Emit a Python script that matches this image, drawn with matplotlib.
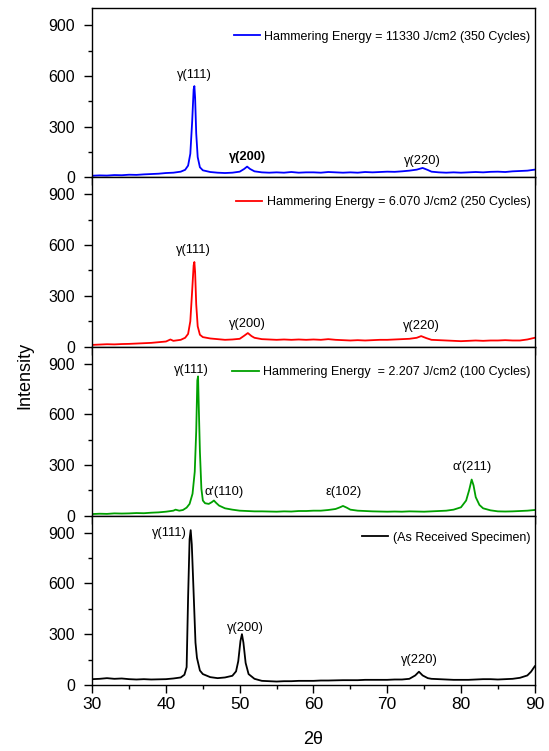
import matplotlib as mpl
import matplotlib.pyplot as plt
from matplotlib.ticker import MultipleLocator

mpl.rcParams.update({
    "font.family": ["Liberation Sans", "DejaVu Sans"],
    "font.size": 9,
    "axes.linewidth": 1.0,
    "xtick.direction": "out", "ytick.direction": "out",
    "xtick.major.size": 5.5, "ytick.major.size": 5.5,
    "xtick.minor.size": 3.0, "ytick.minor.size": 3.0,
    "xtick.major.pad": 3.0, "ytick.major.pad": 7.0,
    "xtick.labelsize": 12.5, "ytick.labelsize": 11.5,
})

# ---- data ----
x_350 = [30, 31, 32, 33, 34, 35, 36, 37, 38, 39, 40, 41, 42, 42.6, 43.0, 43.3, 43.55,
         43.75, 43.85, 43.95, 44.1, 44.3, 44.6, 45, 46, 47, 48, 49, 50, 50.6, 51.0, 51.4,
         52, 53, 54, 55, 56, 57, 58, 59, 60, 61, 62, 63, 64, 65, 66, 67, 68, 69, 70, 71,
         72, 73, 74, 74.8, 75.5, 76, 77, 78, 79, 80, 81, 82, 83, 84, 85, 86, 87, 88, 89, 90]
y_350 = [10, 12, 11, 14, 13, 16, 15, 18, 20, 22, 26, 28, 34, 45, 70, 140, 330,
         520, 540, 470, 260, 120, 60, 42, 32, 28, 26, 28, 34, 50, 64, 50,
         36, 30, 28, 30, 28, 32, 28, 30, 30, 28, 32, 30, 28, 30, 28, 32, 30, 32, 34, 33,
         36, 40, 46, 56, 44, 34, 30, 28, 30, 28, 30, 32, 30, 33, 34, 32, 36, 38, 40, 46]

x_250 = [30, 31, 32, 33, 34, 35, 36, 37, 38, 39, 40, 40.6, 41, 42, 42.6, 43.0, 43.3, 43.55,
         43.75, 43.85, 43.95, 44.1, 44.3, 44.6, 45, 46, 47, 48, 49, 50, 50.6, 51.1, 51.6,
         52, 53, 54, 55, 56, 57, 58, 59, 60, 61, 62, 63, 64, 65, 66, 67, 68, 69, 70, 71,
         72, 73, 74, 74.6, 75.3, 76, 77, 78, 79, 80, 81, 82, 83, 84, 85, 86, 87, 88, 89, 90]
y_250 = [10, 12, 14, 13, 15, 16, 18, 20, 22, 26, 30, 42, 34, 40, 52, 75, 150, 330,
         480, 500, 440, 250, 120, 70, 56, 48, 44, 40, 42, 46, 64, 80, 62,
         52, 44, 42, 40, 42, 40, 42, 40, 42, 40, 44, 40, 38, 36, 38, 36, 38, 40, 40, 42,
         44, 46, 52, 62, 50, 40, 38, 36, 34, 32, 34, 36, 34, 36, 36, 38, 36, 36, 42, 52]

x_100 = [30, 31, 32, 33, 34, 35, 36, 37, 38, 39, 40, 41, 41.3, 41.8, 42.3, 42.8, 43.2, 43.6,
         43.9, 44.1, 44.25, 44.35, 44.45, 44.6, 44.8, 45.0, 45.3, 45.8, 46.2, 46.5, 46.8,
         47.2, 48, 49, 50, 51, 52, 53, 54, 55, 56, 57, 58, 59, 60, 61, 62, 63, 63.6, 64.0,
         64.5, 65, 66, 67, 68, 69, 70, 71, 72, 73, 74, 75, 76, 77, 78, 79, 80, 80.7, 81.1,
         81.45, 81.7, 82, 82.5, 83, 84, 85, 86, 87, 88, 89, 90]
y_100 = [10, 12, 11, 14, 13, 14, 16, 15, 18, 20, 24, 30, 36, 30, 34, 48, 70, 130,
         260, 500, 800, 824, 640, 380, 160, 90, 74, 70, 80, 90, 76,
         60, 44, 36, 30, 28, 26, 26, 25, 24, 26, 25, 28, 28, 30, 30, 34, 40, 50, 58,
         48, 36, 30, 28, 26, 25, 24, 25, 24, 26, 25, 24, 26, 28, 30, 36, 50, 90, 150,
         214, 180, 110, 64, 44, 32, 26, 25, 26, 28, 30, 34]

x_ar = [30, 31, 32, 33, 34, 35, 36, 37, 38, 39, 40, 41, 42, 42.5, 42.8, 43.0, 43.2, 43.35,
        43.5, 43.7, 44.0, 44.2, 44.6, 45, 46, 47, 48, 49, 49.5, 49.8, 50.1, 50.3, 50.5,
        50.8, 51.2, 52, 53, 54, 55, 56, 57, 58, 59, 60, 61, 62, 63, 64, 65, 66, 67, 68, 69,
        70, 71, 72, 73, 73.8, 74.3, 74.8, 75.5, 76, 77, 78, 79, 80, 81, 82, 83, 84, 85, 86,
        87, 88, 89, 89.5, 90]
y_ar = [34, 36, 40, 36, 38, 34, 32, 34, 32, 33, 34, 38, 44, 60, 105, 520, 860, 915,
        830, 600, 250, 160, 85, 64, 46, 40, 44, 54, 80, 140, 260, 300, 250,
        130, 64, 36, 24, 22, 20, 22, 22, 24, 24, 24, 26, 26, 27, 28, 28, 28, 30, 30, 30,
        30, 32, 32, 36, 56, 78, 56, 40, 36, 34, 32, 30, 30, 30, 32, 34, 34, 32, 34,
        36, 42, 56, 78, 110]

legends = ["Hammering Energy = 11330 J/cm2 (350 Cycles)",
           "Hammering Energy = 6.070 J/cm2 (250 Cycles)",
           "Hammering Energy  = 2.207 J/cm2 (100 Cycles)",
           "(As Received Specimen)"]
colors = ["#0000ff", "#ff0000", "#00a000", "#000000"]
series = [(x_350, y_350), (x_250, y_250), (x_100, y_100), (x_ar, y_ar)]
legend_y = [0.833, 0.852, 0.850, 0.871]

# peak labels: (text, x, y, bold)
peaks = [
    [("γ(111)", 43.9, 607, False), ("γ(200)", 51.0, 123, True), ("γ(220)", 74.8, 98, False)],
    [("γ(111)", 43.7, 569, False), ("γ(200)", 51.1, 131, False), ("γ(220)", 74.7, 121, False)],
    [("γ(111)", 43.4, 864, False), ("α'(110)", 47.9, 142, False),
     ("ε(102)", 64.1, 142, False), ("α'(211)", 81.5, 287, False)],
    [("γ(111)", 40.5, 897, False), ("γ(200)", 50.8, 339, False), ("γ(220)", 74.3, 148, False)],
]

fig, axes = plt.subplots(4, 1, sharex=True, figsize=(5.49, 7.51), dpi=100)
fig.subplots_adjust(left=0.168, right=0.974, bottom=0.088, top=0.989, hspace=0)

for ax, (xs, ys), c, lab, ly, pk in zip(axes, series, colors, legends, legend_y, peaks):
    ax.plot(xs, ys, color=c, lw=1.3, label=lab)
    ax.set_xlim(30, 90)
    ax.set_ylim(0, 1000)
    ax.yaxis.set_major_locator(MultipleLocator(300))
    ax.yaxis.set_minor_locator(MultipleLocator(150))
    ax.xaxis.set_major_locator(MultipleLocator(10))
    ax.xaxis.set_minor_locator(MultipleLocator(5))
    ax.tick_params(which="both", top=False, right=False, width=1.0)
    for t, px, py, b in pk:
        ax.text(px, py, t, ha="center", va="center", fontsize=9.3,
                fontweight="bold" if b else "normal")
    ax.legend(loc="center right", bbox_to_anchor=(0.99, ly), frameon=False,
              fontsize=9, handlelength=2.1, handletextpad=0.35,
              borderaxespad=0, borderpad=0)

axes[-1].set_xlabel("2θ", fontsize=13, labelpad=14)
fig.text(0.046, 0.5, "Intensity", rotation=90, ha="center", va="center", fontsize=13)

fig.savefig("out.png", dpi=100)
